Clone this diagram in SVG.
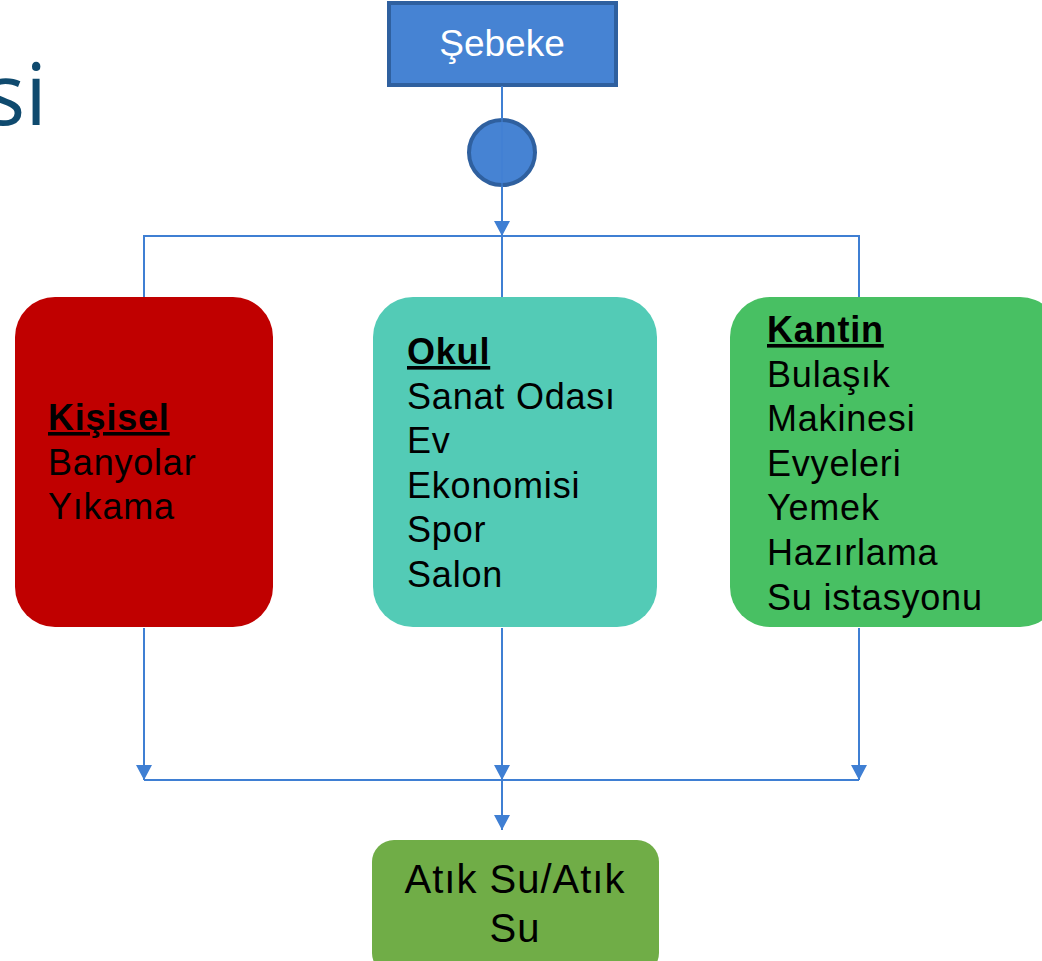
<svg xmlns="http://www.w3.org/2000/svg" width="1042" height="961" viewBox="0 0 1042 961">
<style>
.t{font-family:"Liberation Sans",Arial,sans-serif;font-size:36px;letter-spacing:0.8px;fill:#000}
.h{font-weight:bold;text-decoration:underline}
.c{fill:none;stroke:#3f7fd3;stroke-width:2}
</style>
<defs>
<marker id="a" viewBox="0 0 15 16" refX="15" refY="8" markerWidth="15" markerHeight="16" markerUnits="userSpaceOnUse" orient="auto">
<path d="M0 0L15 8L0 16Z" fill="#3f7fd3"/>
</marker>
</defs>
<rect width="1042" height="961" fill="#fff"/>
<text x="47" y="125" text-anchor="end" font-family="'Open Sans',sans-serif" font-size="86" fill="#0f4a6e">si</text>
<g id="sebeke">
<rect x="389" y="3" width="227" height="82" fill="#4683d3" stroke="#2f609f" stroke-width="4"/>
<text x="502" y="56" text-anchor="middle" font-family="'Liberation Sans',Arial,sans-serif" font-size="37" fill="#fff">Şebeke</text>
</g>
<g id="valve">
<ellipse cx="502" cy="152.5" rx="33" ry="32.5" fill="#4683d3" stroke="#2f609f" stroke-width="4"/>
</g>
<g id="connectors">
<path class="c" d="M502 86V119"/>
<path class="c" d="M502 119V186" stroke-opacity="0.6"/>
<path class="c" d="M502 186V236" marker-end="url(#a)"/>
<path class="c" d="M144 297V236H859V297M502 236V297"/>
<path class="c" d="M144 628V780" marker-end="url(#a)"/>
<path class="c" d="M502 628V780" marker-end="url(#a)"/>
<path class="c" d="M859 628V780" marker-end="url(#a)"/>
<path class="c" d="M144 780H859"/>
<path class="c" d="M502 780V830" marker-end="url(#a)"/>
</g>
<g id="kisisel">
<rect x="15" y="297" width="258" height="330" rx="40" fill="#c00000"/>
<text class="t" x="48" y="430"><tspan class="h">Kişisel</tspan><tspan x="48" dy="44.5">Banyolar</tspan><tspan x="48" dy="44.5">Yıkama</tspan></text>
</g>
<g id="okul">
<rect x="373" y="297" width="284" height="330" rx="40" fill="#53cbb6"/>
<text class="t" x="407" y="364"><tspan class="h">Okul</tspan><tspan x="407" dy="44.6">Sanat Odası</tspan><tspan x="407" dy="44.6">Ev</tspan><tspan x="407" dy="44.6">Ekonomisi</tspan><tspan x="407" dy="44.6">Spor</tspan><tspan x="407" dy="44.6">Salon</tspan></text>
</g>
<g id="kantin">
<rect x="730" y="297" width="330" height="330" rx="40" fill="#48c063"/>
<text class="t" x="767" y="342"><tspan class="h">Kantin</tspan><tspan x="767" dy="44.6">Bulaşık</tspan><tspan x="767" dy="44.6">Makinesi</tspan><tspan x="767" dy="44.6">Evyeleri</tspan><tspan x="767" dy="44.6">Yemek</tspan><tspan x="767" dy="44.6">Hazırlama</tspan><tspan x="767" dy="44.6">Su istasyonu</tspan></text>
</g>
<g id="atiksu">
<rect x="372" y="840" width="287" height="135" rx="22" fill="#70ad47"/>
<text class="t" x="515" y="893" text-anchor="middle" style="font-size:40px;letter-spacing:1px"><tspan>Atık Su/Atık</tspan><tspan x="515" dy="49">Su</tspan></text>
</g>
</svg>
